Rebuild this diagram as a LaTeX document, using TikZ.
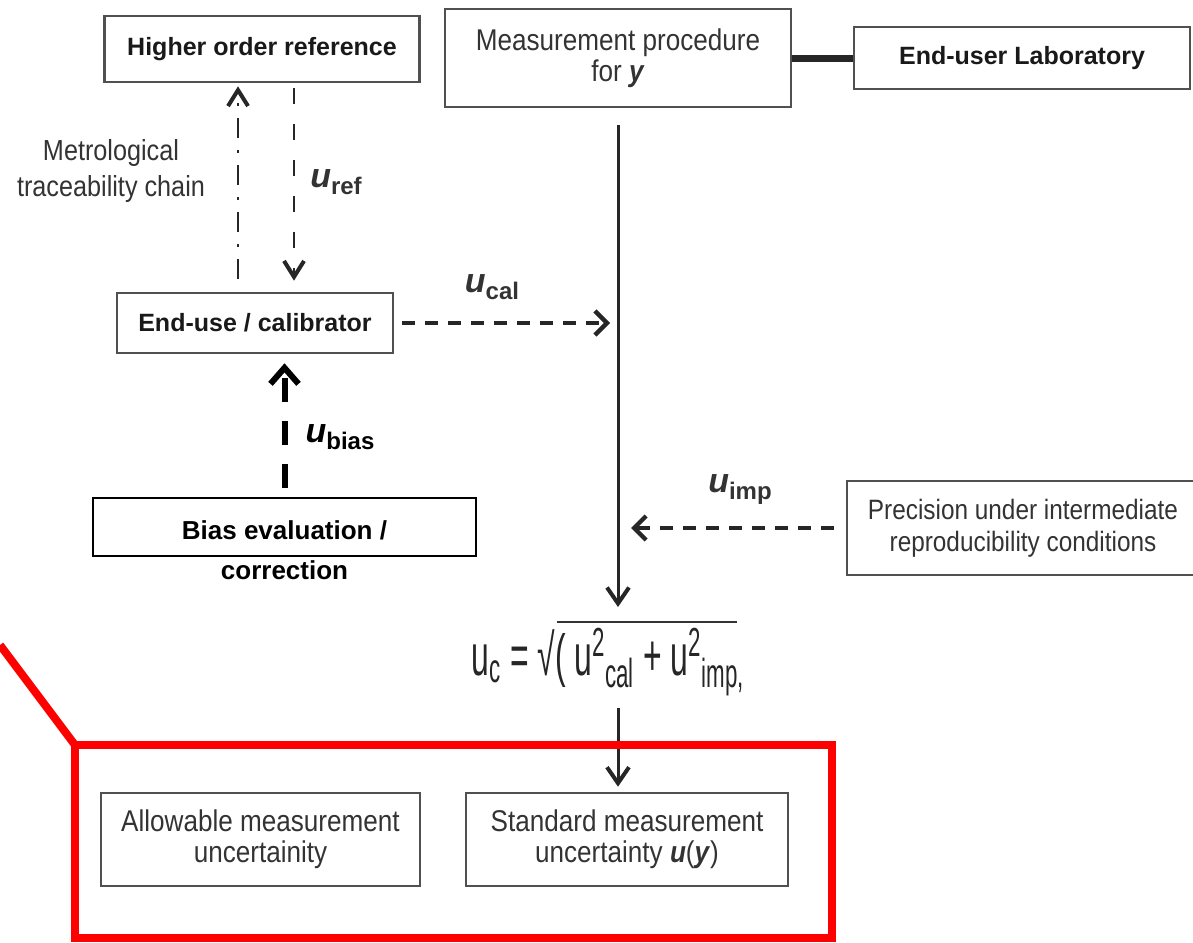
\documentclass[tikz,border=0pt]{standalone}
\usepackage{fontspec}
\setmainfont{Liberation Sans}
\newfontfamily\narrowfont{Liberation Sans}[FakeStretch=0.87]
\usepackage{graphicx}
\usetikzlibrary{arrows.meta}
\definecolor{inkgray}{HTML}{333333}
\definecolor{edgegray}{HTML}{505050}
\definecolor{alertred}{HTML}{FF0000}
\newcommand{\ulab}[1]{{\fontsize{17}{17}\selectfont\bfseries\itshape u}\raisebox{-3.5pt}{\fontsize{12}{12}\selectfont\bfseries #1}}

\begin{document}
\begin{tikzpicture}[x=0.5pt,y=-0.5pt,
    boldbox/.style={draw=edgegray, line width=1.3pt, inner sep=0pt, text=black!90,
        font=\fontsize{12.5}{14}\selectfont\bfseries},
    greybox/.style={draw=edgegray, line width=1.3pt, inner sep=0pt, align=center, text=inkgray,
        font=\fontsize{15}{15.5}\narrowfont},
    barb/.style={-{Straight Barb[length=6pt,width=12pt,line width=2.2pt]}},
    longbarb/.style={-{Straight Barb[length=8pt,width=10pt,line width=2pt]}},
    thinline/.style={barb, line width=1.8pt, black!85, dash pattern=on 6.5pt off 5pt},
    mainline/.style={-{Straight Barb[length=8pt,width=11pt,line width=2pt]}, line width=1.5pt, black!85}]
    \useasboundingbox (0,0) rectangle (1193,942);

    \node[boldbox, minimum width=157.5pt, minimum height=33pt] (hor) at (262,49) {Higher order reference};
    \node[greybox, minimum width=173pt, minimum height=49pt] (mp) at (618,58) {Measurement procedure\\for \textbf{\textit{y}}};
    \node[boldbox, minimum width=168pt, minimum height=31pt] (lab) at (1022,58) {End-user Laboratory};
    \node[boldbox, minimum width=138pt, minimum height=30pt] (cal) at (255,323) {End-use / calibrator};
    \node[draw=black, line width=1pt, minimum width=191.5pt, minimum height=29pt] (bias) at (284.5,527) {};
    \node[align=center, font=\fontsize{13}{20}\selectfont\bfseries] (biastxt) at (284.5,550) {Bias evaluation /\\correction};
    \node[greybox, minimum width=176pt, minimum height=47pt, font=\fontsize{14}{16}\narrowfont] (prec) at (1023,528) {Precision under intermediate\\reproducibility conditions};
    \node[greybox, minimum width=159.5pt, minimum height=46.5pt] (allow) at (260.5,839.5) {Allowable measurement\\uncertainity};
    \node[greybox, minimum width=161pt, minimum height=46.5pt] (std) at (627,839.5) {Standard measurement\\uncertainty \textbf{\textit{u}}(\textbf{\textit{y}})};

    \node[text=inkgray, align=center, font=\fontsize{14.5}{17.5}\narrowfont] (mtc) at (111,171) {Metrological\\traceability chain};
    \node[text=inkgray] (uref) at (336,182) {\ulab{ref}};
    \node[text=inkgray] (ucal) at (492,287) {\ulab{cal}};
    \node[text=black] (ubias) at (340,437) {\ulab{bias}};
    \node[text=inkgray] (uimp) at (740,490) {\ulab{imp}};

    % combined uncertainty
    \node[text=black!85, anchor=base, inner sep=0pt] (fml) at (608,675) {\scalebox{0.55}[1]{\fontsize{29}{29}\selectfont u\textsubscript{c} = √( u\textsuperscript{2}\textsubscript{cal} + u\textsuperscript{2}\textsubscript{imp,}}};
    \draw[inkgray, line width=0.8pt] (557,622) -- (737,622);

    \coordinate (upx) at (238,0);
    \coordinate (dnx) at (294,0);
    \coordinate (sumin) at (618,607);
    \coordinate (sumout) at (618,708);

    \draw[longbarb, line width=1.3pt, black!85, dash pattern=on 10pt off 6pt on 1.5pt off 6pt,
        shorten <=6.5pt, shorten >=1.5pt] (cal.north -| upx) -- (hor.south -| upx);
    \draw[longbarb, line width=1.3pt, black!85, dash pattern=on 8pt off 10pt,
        shorten <=2.5pt, shorten >=5.5pt] (hor.south -| dnx) -- (cal.north -| dnx);
    \draw[thinline, shorten <=4pt, shorten >=4pt] (cal.east) -- (cal.east -| mp.south);
    \draw[mainline, shorten <=8.5pt] (mp.south) -- (sumin);
    \draw[thinline, shorten <=6pt, shorten >=6.5pt] (prec.west) -- (prec.west -| mp.south);
    \draw[-{Straight Barb[length=8pt,width=14pt,line width=3pt]}, line width=3pt, black, dash pattern=on 12pt off 9.5pt,
        shorten <=4.5pt, shorten >=4.5pt] (bias.north) -- (bias.north |- cal.south);
    \draw[mainline, shorten >=2.5pt] (sumout) -- (sumout |- std.north);
    \draw[line width=3.5pt, black!85] (mp.east) -- (lab.west);

    % highlight
    \draw[alertred, line width=4pt, line join=miter] (0,645) -- (75,745);
    \draw[alertred, line width=4pt] (75,745) rectangle (832,938);
\end{tikzpicture}
\end{document}
